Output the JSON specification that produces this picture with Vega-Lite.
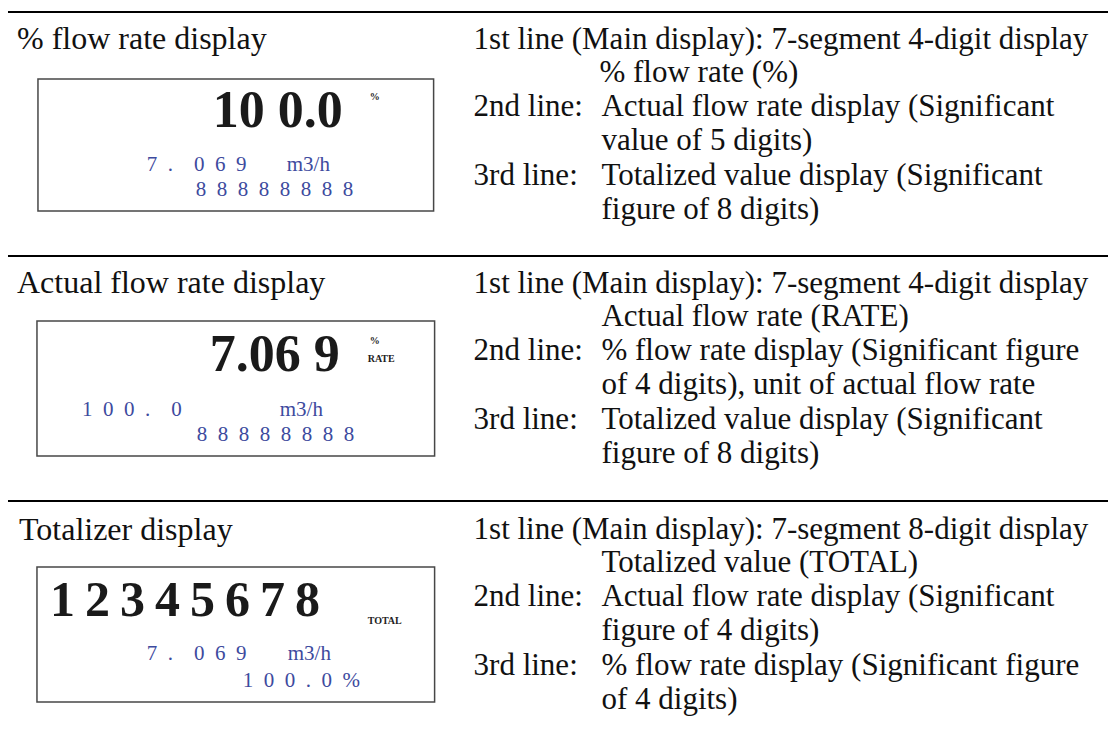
{
  "$schema": "https://vega.github.io/schema/vega-lite/v6.json",
  "width": 1109,
  "height": 740,
  "autosize": {"type": "fit", "contains": "padding"},
  "padding": 0,
  "background": "white",
  "config": {"view": {"stroke": null}},
  "datasets": {
    "rules": [
      {"x1": 8, "x2": 1109, "y": 12},
      {"x1": 8, "x2": 1109, "y": 256},
      {"x1": 8, "x2": 1109, "y": 501}
    ],
    "boxes": [
      {"x1": 38, "x2": 434, "y1": 79, "y2": 211},
      {"x1": 37, "x2": 435, "y1": 321, "y2": 456},
      {"x1": 37, "x2": 435, "y1": 567, "y2": 702}
    ],
    "texts": [
      {"kind": "title", "x": 17, "y": 49, "text": "% flow rate display"},
      {"kind": "body", "x": 474, "y": 49, "text": "1st line (Main display): 7-segment 4-digit display"},
      {"kind": "body", "x": 600, "y": 82, "text": "% flow rate (%)"},
      {"kind": "body", "x": 474, "y": 116, "text": "2nd line:"},
      {"kind": "body", "x": 602, "y": 116, "text": "Actual flow rate display (Significant"},
      {"kind": "body", "x": 602, "y": 150, "text": "value of 5 digits)"},
      {"kind": "body", "x": 474, "y": 185, "text": "3rd line:"},
      {"kind": "body", "x": 602, "y": 185, "text": "Totalized value display (Significant"},
      {"kind": "body", "x": 602, "y": 219, "text": "figure of 8 digits)"},
      {"kind": "big", "x": 213, "y": 127, "text": "10 0.0"},
      {"kind": "small", "x": 370, "y": 100, "text": "%"},
      {"kind": "lcd", "x": 147, "y": 171, "text": "7\u2002.\u2002\u20020\u20026\u20029"},
      {"kind": "unit", "x": 287, "y": 171, "text": "m3/h"},
      {"kind": "lcd", "x": 196, "y": 196, "text": "8\u20028\u20028\u20028\u20028\u20028\u20028\u20028"},

      {"kind": "title", "x": 17, "y": 293, "text": "Actual flow rate display"},
      {"kind": "body", "x": 474, "y": 293, "text": "1st line (Main display): 7-segment 4-digit display"},
      {"kind": "body", "x": 602, "y": 326, "text": "Actual flow rate (RATE)"},
      {"kind": "body", "x": 474, "y": 360, "text": "2nd line:"},
      {"kind": "body", "x": 602, "y": 360, "text": "% flow rate display (Significant figure"},
      {"kind": "body", "x": 602, "y": 394, "text": "of 4 digits), unit of actual flow rate"},
      {"kind": "body", "x": 474, "y": 429, "text": "3rd line:"},
      {"kind": "body", "x": 602, "y": 429, "text": "Totalized value display (Significant"},
      {"kind": "body", "x": 602, "y": 463, "text": "figure of 8 digits)"},
      {"kind": "big", "x": 210, "y": 371, "text": "7.06 9"},
      {"kind": "small", "x": 370, "y": 344, "text": "%"},
      {"kind": "small", "x": 368, "y": 362, "text": "RATE"},
      {"kind": "lcd", "x": 82, "y": 416, "text": "1\u20020\u20020\u2002.\u2002\u20020"},
      {"kind": "unit", "x": 280, "y": 416, "text": "m3/h"},
      {"kind": "lcd", "x": 197, "y": 441, "text": "8\u20028\u20028\u20028\u20028\u20028\u20028\u20028"},

      {"kind": "title", "x": 19, "y": 540, "text": "Totalizer display"},
      {"kind": "body", "x": 474, "y": 539, "text": "1st line (Main display): 7-segment 8-digit display"},
      {"kind": "body", "x": 602, "y": 572, "text": "Totalized value (TOTAL)"},
      {"kind": "body", "x": 474, "y": 606, "text": "2nd line:"},
      {"kind": "body", "x": 602, "y": 606, "text": "Actual flow rate display (Significant"},
      {"kind": "body", "x": 602, "y": 640, "text": "figure of 4 digits)"},
      {"kind": "body", "x": 474, "y": 675, "text": "3rd line:"},
      {"kind": "body", "x": 602, "y": 675, "text": "% flow rate display (Significant figure"},
      {"kind": "body", "x": 602, "y": 709, "text": "of 4 digits)"},
      {"kind": "big8", "x": 50, "y": 616, "text": "1\u20092\u20093\u20094\u20095\u20096\u20097\u20098"},
      {"kind": "small", "x": 368, "y": 624, "text": "TOTAL"},
      {"kind": "lcd", "x": 147, "y": 660, "text": "7\u2002.\u2002\u20020\u20026\u20029"},
      {"kind": "unit", "x": 288, "y": 660, "text": "m3/h"},
      {"kind": "lcd", "x": 243, "y": 687, "text": "1\u20020\u20020\u2002.\u20020\u2002%"}
    ]
  },
  "layer": [
    {
      "data": {"name": "rules"},
      "mark": {"type": "rule", "color": "#000000", "strokeWidth": 2},
      "encoding": {
        "x": {"field": "x1", "type": "quantitative", "scale": {"domain": [0, 1109], "nice": false, "zero": false}, "axis": null},
        "x2": {"field": "x2"},
        "y": {"field": "y", "type": "quantitative", "scale": {"domain": [0, 740], "nice": false, "zero": false, "reverse": true}, "axis": null}
      }
    },
    {
      "data": {"name": "boxes"},
      "mark": {"type": "rect", "fill": "#ffffff", "stroke": "#474747", "strokeWidth": 1.5},
      "encoding": {
        "x": {"field": "x1", "type": "quantitative", "scale": {"domain": [0, 1109], "nice": false, "zero": false}, "axis": null},
        "x2": {"field": "x2"},
        "y": {"field": "y1", "type": "quantitative", "scale": {"domain": [0, 740], "nice": false, "zero": false, "reverse": true}, "axis": null},
        "y2": {"field": "y2"}
      }
    },
    {
      "data": {"name": "texts"},
      "transform": [{"filter": "datum.kind === 'title'"}],
      "mark": {"type": "text", "align": "left", "baseline": "alphabetic", "font": "Liberation Serif", "fontSize": 32, "color": "#111111"},
      "encoding": {
        "x": {"field": "x", "type": "quantitative", "scale": {"domain": [0, 1109], "nice": false, "zero": false}, "axis": null},
        "y": {"field": "y", "type": "quantitative", "scale": {"domain": [0, 740], "nice": false, "zero": false, "reverse": true}, "axis": null},
        "text": {"field": "text"}
      }
    },
    {
      "data": {"name": "texts"},
      "transform": [{"filter": "datum.kind === 'body'"}],
      "mark": {"type": "text", "align": "left", "baseline": "alphabetic", "font": "Liberation Serif", "fontSize": 31, "color": "#111111"},
      "encoding": {
        "x": {"field": "x", "type": "quantitative", "scale": {"domain": [0, 1109], "nice": false, "zero": false}, "axis": null},
        "y": {"field": "y", "type": "quantitative", "scale": {"domain": [0, 740], "nice": false, "zero": false, "reverse": true}, "axis": null},
        "text": {"field": "text"}
      }
    },
    {
      "data": {"name": "texts"},
      "transform": [{"filter": "datum.kind === 'big'"}],
      "mark": {"type": "text", "align": "left", "baseline": "alphabetic", "font": "Liberation Serif", "fontWeight": "bold", "fontSize": 52, "color": "#1a1a1a"},
      "encoding": {
        "x": {"field": "x", "type": "quantitative", "scale": {"domain": [0, 1109], "nice": false, "zero": false}, "axis": null},
        "y": {"field": "y", "type": "quantitative", "scale": {"domain": [0, 740], "nice": false, "zero": false, "reverse": true}, "axis": null},
        "text": {"field": "text"}
      }
    },
    {
      "data": {"name": "texts"},
      "transform": [{"filter": "datum.kind === 'big8'"}],
      "mark": {"type": "text", "align": "left", "baseline": "alphabetic", "font": "Liberation Serif", "fontWeight": "bold", "fontSize": 50, "color": "#1a1a1a"},
      "encoding": {
        "x": {"field": "x", "type": "quantitative", "scale": {"domain": [0, 1109], "nice": false, "zero": false}, "axis": null},
        "y": {"field": "y", "type": "quantitative", "scale": {"domain": [0, 740], "nice": false, "zero": false, "reverse": true}, "axis": null},
        "text": {"field": "text"}
      }
    },
    {
      "data": {"name": "texts"},
      "transform": [{"filter": "datum.kind === 'small'"}],
      "mark": {"type": "text", "align": "left", "baseline": "alphabetic", "font": "Liberation Serif", "fontWeight": "bold", "fontSize": 10, "color": "#222222"},
      "encoding": {
        "x": {"field": "x", "type": "quantitative", "scale": {"domain": [0, 1109], "nice": false, "zero": false}, "axis": null},
        "y": {"field": "y", "type": "quantitative", "scale": {"domain": [0, 740], "nice": false, "zero": false, "reverse": true}, "axis": null},
        "text": {"field": "text"}
      }
    },
    {
      "data": {"name": "texts"},
      "transform": [{"filter": "datum.kind === 'lcd' || datum.kind === 'unit'"}],
      "mark": {"type": "text", "align": "left", "baseline": "alphabetic", "font": "Liberation Serif", "fontSize": 21, "color": "#3d4a9e"},
      "encoding": {
        "x": {"field": "x", "type": "quantitative", "scale": {"domain": [0, 1109], "nice": false, "zero": false}, "axis": null},
        "y": {"field": "y", "type": "quantitative", "scale": {"domain": [0, 740], "nice": false, "zero": false, "reverse": true}, "axis": null},
        "text": {"field": "text"}
      }
    }
  ]
}
